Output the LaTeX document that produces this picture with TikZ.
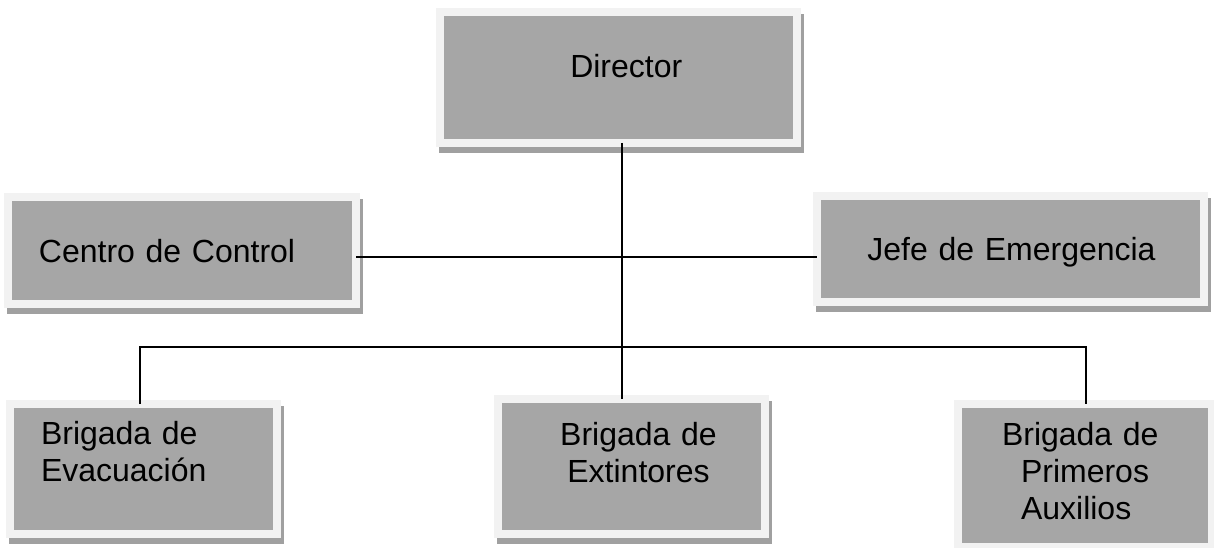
\documentclass[tikz,border=0pt]{standalone}
\usepackage{fontspec}
\setmainfont{Liberation Sans}
\definecolor{boxgray}{HTML}{A6A6A6}
\definecolor{framegray}{HTML}{F2F2F2}
\definecolor{shadowgray}{HTML}{A0A0A0}
\newcommand\boxlines[2][l]{\begin{tabular}[t]{@{}#1@{}}#2\end{tabular}}
\begin{document}
\begin{tikzpicture}[x=1pt,y=-1pt,
  orgbox/.style={draw=framegray, line width=8pt, fill=boxgray, inner sep=0pt, outer sep=0pt,
    font=\fontsize{32}{37}\selectfont,
    preaction={draw=shadowgray, fill=shadowgray, line width=8pt, transform canvas={shift={(3pt,-6pt)}}}},
  conn/.style={draw=black, line width=1.5pt}]
\useasboundingbox (0,0) rectangle (1214,548);
\node[orgbox, minimum width=356.5pt, minimum height=131pt, text width=356.5pt, align=center,
  text height=0pt, text depth=0pt] (dir) at (618.25,77.5) {\hspace*{16pt}Director};
\node[orgbox, minimum width=348pt, minimum height=107pt, text width=348pt, align=left,
  text height=24pt, text depth=0pt] (centro) at (182,250) {\hspace*{31pt}Centro de Control};
\node[orgbox, minimum width=387pt, minimum height=106pt, text width=387pt, align=center,
  text height=22pt, text depth=0pt] (jefe) at (1010,249) {\hspace*{3pt}Jefe de Emergencia};
\node[orgbox, minimum width=267pt, minimum height=129.5pt, text width=267pt, align=left,
  text height=0pt, text depth=49.5pt] (evac) at (143.5,468.75) {\hspace*{31pt}\boxlines{Brigada de\\Evacuación}};
\node[orgbox, minimum width=267pt, minimum height=135pt, text width=267pt, align=center,
  text height=0pt, text depth=42pt] (ext) at (631.5,466) {\hspace*{14pt}\boxlines[c]{Brigada de\\Extintores}};
\node[orgbox, minimum width=254pt, minimum height=143pt, text width=254pt, align=left,
  text height=0pt, text depth=61pt] (prim) at (1085,475.5) {\hspace*{44pt}\boxlines{Brigada de\\\hspace*{19pt}Primeros\\\hspace*{19pt}Auxilios}};
\coordinate (trunk) at (622,347);
\coordinate (bl) at (140,347);
\coordinate (br) at (1086,347);
\coordinate (mid) at (622,257);
\draw[conn] (trunk |- dir.south) -- (trunk |- ext.north);
\draw[conn] (centro.east |- mid) -- (jefe.west |- mid);
\draw[conn] (bl |- evac.north) -- (bl) -- (br) -- (br |- prim.north);
\end{tikzpicture}
\end{document}
